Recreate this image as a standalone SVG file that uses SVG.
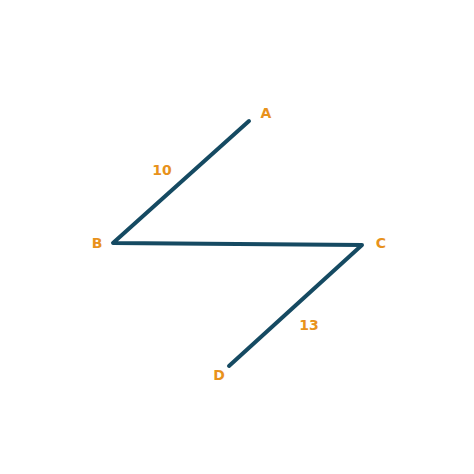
<svg xmlns="http://www.w3.org/2000/svg" width="474" height="474" viewBox="0 0 474 474">
<style>
.e{stroke:#154a62;stroke-width:4;fill:none;stroke-linecap:round;stroke-linejoin:round}
.t{font-family:"DejaVu Sans","Liberation Sans",sans-serif;font-weight:bold;font-size:14px;fill:#e8921c;text-anchor:middle;dominant-baseline:central}
</style>
<rect width="474" height="474" fill="#ffffff"/>
<g id="connectors">
<polyline class="e" points="249,121 113,243 362,245 229,366"/>
<text class="t" x="162" y="170">10</text>
<text class="t" x="309" y="325">13</text>
</g>
<g id="A"><text class="t" x="266" y="113">A</text></g>
<g id="B"><text class="t" x="97" y="243">B</text></g>
<g id="C"><text class="t" x="381" y="243">C</text></g>
<g id="D"><text class="t" x="219" y="375">D</text></g>
</svg>
